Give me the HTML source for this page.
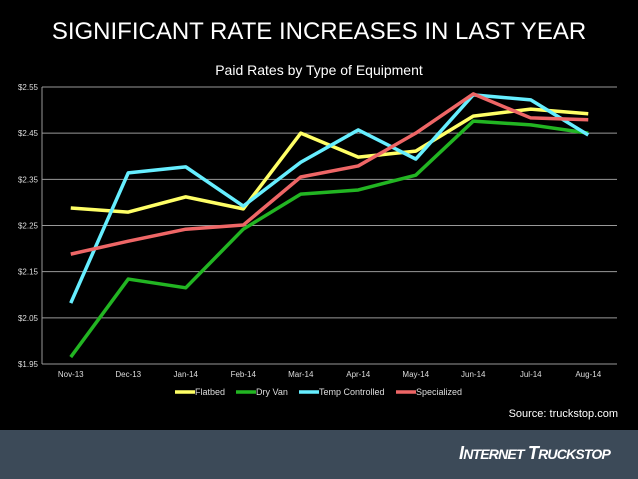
<!DOCTYPE html>
<html><head><meta charset="utf-8"><style>
body{margin:0;width:638px;height:479px;background:#000;overflow:hidden;font-family:"Liberation Sans",sans-serif;position:relative}
.t{position:absolute;color:#fff;white-space:nowrap}
</style></head><body>
<div class="t" style="left:0;width:638px;text-align:center;top:18px;font-size:24px">SIGNIFICANT RATE INCREASES IN LAST YEAR</div>
<svg id="c" width="638" height="430" style="position:absolute;left:0;top:0"></svg>
<div class="t" style="right:20px;top:408px;font-size:11px">Source: truckstop.com</div>
<div style="position:absolute;left:0;top:430px;width:638px;height:49px;background:#3c4a58"></div>
<div class="t" style="left:459px;top:443px;font-size:18px;font-weight:bold;font-style:italic;letter-spacing:-0.8px">I<span style="font-size:14px">NTERNET</span> T<span style="font-size:14px">RUCKSTOP</span></div>
<script>
const categories=["Nov-13","Dec-13","Jan-14","Feb-14","Mar-14","Apr-14","May-14","Jun-14","Jul-14","Aug-14"];
const yTicks=[1.95,2.05,2.15,2.25,2.35,2.45,2.55];
const seriesNames=["Flatbed","Dry Van","Temp Controlled","Specialized"];
const seriesColors=["#ffff66","#22b522","#66eeff","#ee6666"];
const flatbed=[2.288,2.279,2.312,2.286,2.45,2.398,2.411,2.487,2.502,2.492];
const dryVan=[1.965,2.134,2.115,2.242,2.318,2.327,2.359,2.476,2.468,2.45];
const tempControlled=[2.082,2.364,2.377,2.292,2.387,2.457,2.394,2.533,2.522,2.446];
const specialized=[2.188,2.216,2.242,2.251,2.355,2.379,2.45,2.535,2.483,2.479];
const series=[flatbed,dryVan,tempControlled,specialized];
const svg=document.getElementById('c');const NS="http://www.w3.org/2000/svg";
const L=42,R=617,T=87,B=364,ymin=1.95,ymax=2.55;
const band=(R-L)/categories.length;
const x=i=>L+band*(i+0.5);
const y=v=>B-(v-ymin)/(ymax-ymin)*(B-T);
function mk(tag,a,txt){const e=document.createElementNS(NS,tag);for(const k in a)e.setAttribute(k,a[k]);if(txt!==undefined)e.textContent=txt;svg.appendChild(e);return e;}
let st=mk('text',{x:319,y:75,'text-anchor':'middle',fill:'#fff','font-size':14,'font-family':'Liberation Sans'},'Paid Rates by Type of Equipment');


yTicks.forEach(v=>{
 const g=mk('line',{x1:L,x2:R,y1:y(v),y2:y(v),stroke:'#999','stroke-width':1});
 
 
 const t=mk('text',{x:L-4,y:y(v)+3,'text-anchor':'end',fill:'#ddd','font-size':8,'font-family':'Liberation Sans'},'$'+v.toFixed(2));
 
 
});
const ax=mk('line',{x1:L,x2:L,y1:T,y2:B,stroke:'#999'});


categories.forEach((c,i)=>{
 const t=mk('text',{x:x(i),y:377,'text-anchor':'middle',fill:'#ddd','font-size':8,'font-family':'Liberation Sans'},c);
 
 
});
series.forEach((s,k)=>{
 const p=mk('polyline',{points:s.map((v,i)=>x(i)+','+y(v)).join(' '),fill:'none',stroke:seriesColors[k],'stroke-width':3.5,'stroke-linejoin':'round'});
 
 
});
const lx=[175,236,299,396];
seriesNames.forEach((n,k)=>{
 const l=mk('line',{x1:lx[k],x2:lx[k]+20,y1:392,y2:392,stroke:seriesColors[k],'stroke-width':3.5});
 
 
 const t=mk('text',{x:lx[k]+20,y:395,fill:'#ddd','font-size':9,'font-family':'Liberation Sans'},n);
 
 
});
</script>
</body></html>
